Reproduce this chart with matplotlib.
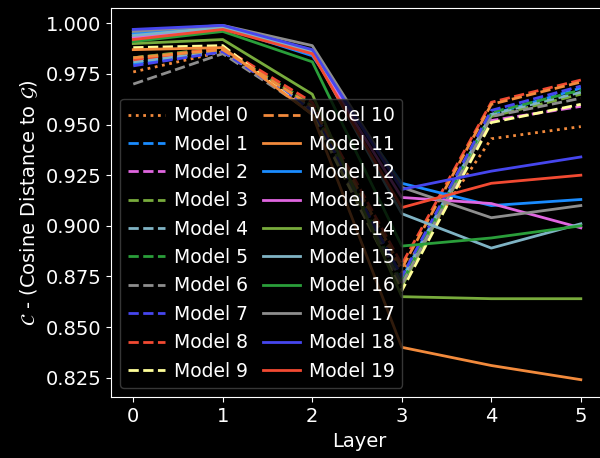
import matplotlib
matplotlib.use("Agg")
import matplotlib.pyplot as plt

plt.style.use("dark_background")
plt.rcParams["font.size"] = 14

layers = [0, 1, 2, 3, 4, 5]

model_names = [f"Model {i}" for i in range(20)]

model_values = [
    [0.976, 0.986, 0.957, 0.877, 0.943, 0.949],  # 0
    [0.980, 0.986, 0.958, 0.874, 0.955, 0.968],  # 1
    [0.982, 0.987, 0.957, 0.872, 0.952, 0.959],  # 2
    [0.983, 0.988, 0.959, 0.870, 0.954, 0.965],  # 3
    [0.981, 0.986, 0.958, 0.873, 0.955, 0.966],  # 4
    [0.983, 0.987, 0.960, 0.872, 0.956, 0.967],  # 5
    [0.970, 0.985, 0.956, 0.871, 0.954, 0.963],  # 6
    [0.979, 0.986, 0.957, 0.875, 0.957, 0.969],  # 7
    [0.982, 0.988, 0.961, 0.881, 0.961, 0.972],  # 8
    [0.988, 0.989, 0.955, 0.868, 0.951, 0.960],  # 9
    [0.983, 0.987, 0.959, 0.879, 0.960, 0.971],  # 10
    [0.987, 0.988, 0.955, 0.840, 0.831, 0.824],  # 11
    [0.995, 0.998, 0.984, 0.921, 0.910, 0.913],  # 12
    [0.993, 0.998, 0.985, 0.914, 0.911, 0.899],  # 13
    [0.990, 0.992, 0.965, 0.865, 0.864, 0.864],  # 14
    [0.994, 0.998, 0.986, 0.906, 0.889, 0.901],  # 15
    [0.991, 0.996, 0.981, 0.890, 0.894, 0.900],  # 16
    [0.996, 0.999, 0.989, 0.919, 0.904, 0.910],  # 17
    [0.997, 0.999, 0.987, 0.918, 0.927, 0.934],  # 18
    [0.992, 0.997, 0.985, 0.909, 0.921, 0.925],  # 19
]

palette = {
    "orange": "#f28a3c",
    "blue": "#1a8cff",
    "magenta": "#e066e0",
    "olive": "#78ab3c",
    "lightblue": "#7fb3c4",
    "green": "#2a9e3a",
    "gray": "#8e8e8e",
    "violet": "#4646ee",
    "red": "#f24a32",
    "yellow": "#ffff99",
}

model_colors = [
    "orange", "blue", "magenta", "olive", "lightblue", "green", "gray",
    "violet", "red", "yellow",
    "orange", "orange", "blue", "magenta", "olive", "lightblue", "green",
    "gray", "violet", "red",
]

model_styles = [":"] + ["--"] * 10 + ["-"] * 9

fig = plt.figure(figsize=(6.0, 4.58), dpi=100)
# the axes run slightly past the right edge of the canvas
ax = fig.add_axes([0.1848, 0.1323, 0.828, 0.8510])

for name, vals, c, ls in zip(model_names, model_values, model_colors, model_styles):
    ax.plot(layers, vals, linestyle=ls, color=palette[c], linewidth=2, label=name)

ax.set_xlim(-0.25, 5.30)
ax.set_ylim(0.81525, 1.00775)
ax.set_xticks(layers)
ax.set_yticks([0.825, 0.850, 0.875, 0.900, 0.925, 0.950, 0.975, 1.000])
ax.set_yticklabels([f"{v:.3f}" for v in ax.get_yticks()])
ax.set_xlabel("Layer")
ax.set_ylabel(r"$\mathcal{C}$ - (Cosine Distance to $\mathcal{G}$)")

leg = ax.legend(ncol=2, loc="lower left", facecolor="black",
                edgecolor="#444444", framealpha=0.8, fontsize=13.5,
                columnspacing=0.8, handletextpad=0.45, labelspacing=0.5)

fig.savefig("out.png", dpi=100)
